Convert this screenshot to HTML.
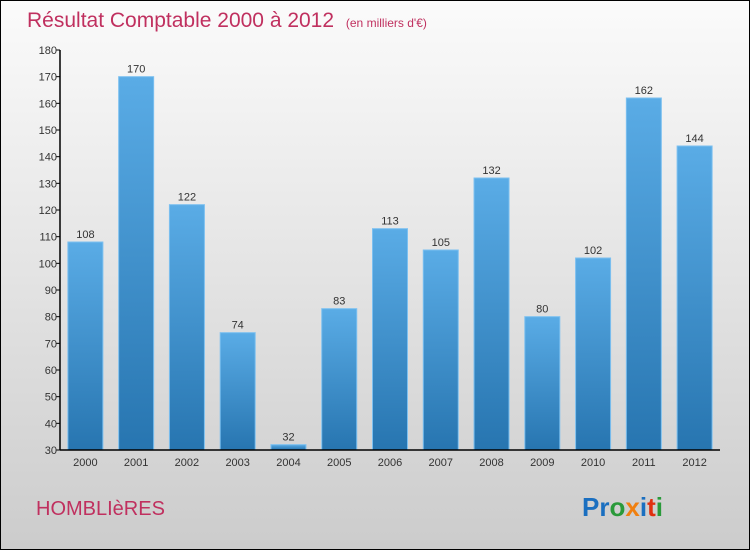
<!DOCTYPE html>
<html><head><meta charset="utf-8"><style>
html,body{margin:0;padding:0}
body{width:750px;height:550px;overflow:hidden;font-family:"Liberation Sans",sans-serif}
</style></head><body>
<svg width="750" height="550" xmlns="http://www.w3.org/2000/svg">
<defs>
<linearGradient id="bg" x1="0" y1="0" x2="0" y2="1"><stop offset="0" stop-color="#fbfbfb"/><stop offset="1" stop-color="#cccccc"/></linearGradient>
<linearGradient id="bar" x1="0" y1="0" x2="0" y2="1"><stop offset="0" stop-color="#5aace6"/><stop offset="1" stop-color="#2775b0"/></linearGradient>
</defs>
<rect x="0.5" y="0.5" width="749" height="549" fill="url(#bg)" stroke="#000"/>
<text x="27" y="27" font-size="21" fill="#c0305f">Résultat Comptable 2000 à 2012 <tspan font-size="12" dx="6">(en milliers d'€)</tspan></text>
<g id="plot"></g>
<text x="36" y="515" font-size="20" fill="#c0305f">HOMBLIèRES</text>
<text x="582" y="516" font-size="26" font-weight="bold"><tspan fill="#1a6fc0">Pr</tspan><tspan fill="#2a9a3a">o</tspan><tspan fill="#f08010">x</tspan><tspan fill="#1a6fc0">i</tspan><tspan fill="#e03010">t</tspan><tspan fill="#2a9a3a">i</tspan></text>
</svg>
<script>
const categories=["2000","2001","2002","2003","2004","2005","2006","2007","2008","2009","2010","2011","2012"];
const values=[108,170,122,74,32,83,113,105,132,80,102,162,144];
const yTicks=[30,40,50,60,70,80,90,100,110,120,130,140,150,160,170,180];
const NS="http://www.w3.org/2000/svg";
const g=document.getElementById("plot");
const x0=60,x1=720,yTop=50,yBot=450,yMin=30,yMax=180;
const y=v=>yBot-(v-yMin)/(yMax-yMin)*(yBot-yTop);
const step=(x1-x0)/categories.length;
const xc=i=>x0+step*(i+0.5);
function mk(t,a){const e=document.createElementNS(NS,t);for(const k in a)e.setAttribute(k,a[k]);g.appendChild(e);return e;}
yTicks.forEach(v=>{
 const l=mk("line",{x1:x0-4,x2:x0,y1:y(v),y2:y(v),stroke:"#000"});
 
 
 const t=mk("text",{x:x0-3,y:y(v)+4,"text-anchor":"end","font-size":"11",fill:"#333"});
 t.textContent=v;
 
 
});
categories.forEach((c,i)=>{
 const bw=35,h=y(yMin)-y(values[i]);
 const r=mk("rect",{x:xc(i)-bw/2,y:y(values[i]),width:bw,height:h,fill:"url(#bar)",stroke:"#7cc0f0","stroke-width":"1"});
 
 
 const t=mk("text",{x:xc(i),y:y(values[i])-4,"text-anchor":"middle","font-size":"11",fill:"#333"});
 t.textContent=values[i];
 
 
 const xl=mk("text",{x:xc(i),y:yBot+16,"text-anchor":"middle","font-size":"11",fill:"#333"});
 xl.textContent=c;
 
 
});
const ya=mk("line",{x1:x0,x2:x0,y1:yTop,y2:yBot,stroke:"#000","stroke-width":"1.5"});


const xa=mk("line",{x1:x0,x2:x1,y1:yBot,y2:yBot,stroke:"#000","stroke-width":"1.5"});


</script>
</body></html>
